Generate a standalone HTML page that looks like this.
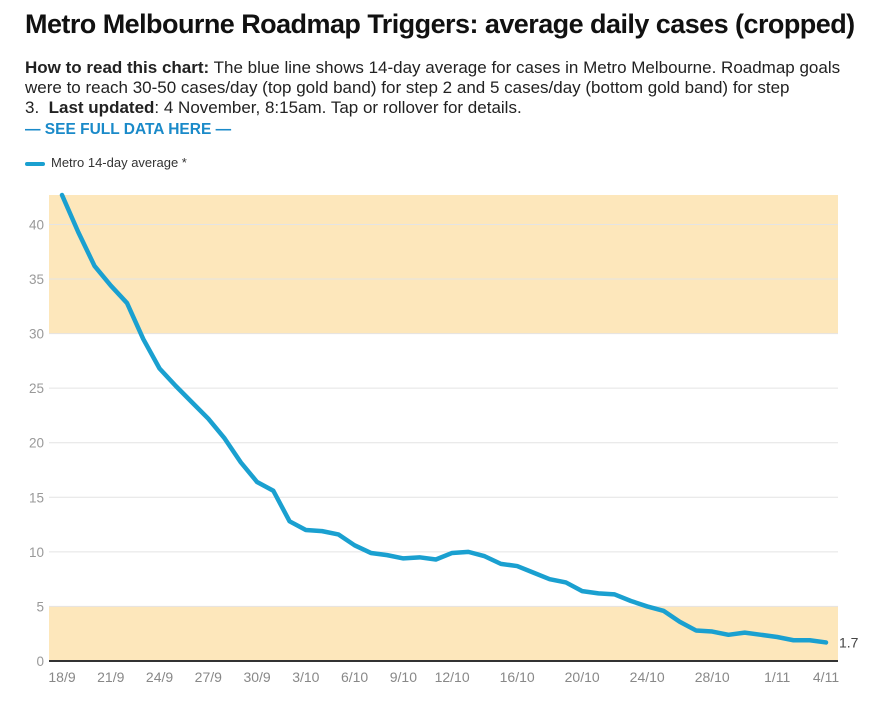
<!DOCTYPE html>
<html><head><meta charset="utf-8"><style>
body{margin:0;width:880px;height:703px;background:#fff;font-family:"Liberation Sans",sans-serif;overflow:hidden}
h1{position:absolute;left:25px;top:9px;margin:0;font-size:27px;font-weight:bold;color:#111;letter-spacing:-0.55px;white-space:nowrap}
.desc{position:absolute;left:25px;top:58px;width:850px;font-size:17px;line-height:20px;color:#222;white-space:nowrap}
.link{position:absolute;left:25px;top:121px;font-size:15.5px;font-weight:bold;color:#1a8ac9}
.legend{position:absolute;left:25px;top:155px;font-size:13px;color:#333}
.legend span{display:inline-block;width:20px;height:4px;background:#1aa0d0;border-radius:2px;vertical-align:middle;margin-right:6px}
svg{position:absolute;left:0;top:0}
</style></head><body>
<h1>Metro Melbourne Roadmap Triggers: average daily cases (cropped)</h1>
<div class="desc"><b>How to read this chart:</b> The blue line shows 14-day average for cases in Metro Melbourne. Roadmap goals<br>were to reach 30-50 cases/day (top gold band) for step 2 and 5 cases/day (bottom gold band) for step<br>3.&nbsp; <b>Last updated</b>: 4 November, 8:15am. Tap or rollover for details.</div>
<div class="link">— SEE FULL DATA HERE —</div>
<div class="legend"><span></span>Metro 14-day average *</div>
<svg id="c" width="880" height="703"></svg>
<script>
const values=[42.7,39.3,36.2,34.4,32.8,29.5,26.8,25.2,23.7,22.2,20.4,18.2,16.4,15.6,12.8,12.0,11.9,11.6,10.6,9.9,9.7,9.4,9.5,9.3,9.9,10.0,9.6,8.9,8.7,8.1,7.5,7.2,6.4,6.2,6.1,5.5,5.0,4.6,3.6,2.8,2.7,2.4,2.6,2.4,2.2,1.9,1.9,1.7];
const xTickIdx=[0,3,6,9,12,15,18,21,24,28,32,36,40,44,47];
const xTickLabels=["18/9","21/9","24/9","27/9","30/9","3/10","6/10","9/10","12/10","16/10","20/10","24/10","28/10","1/11","4/11"];
const yTicks=[0,5,10,15,20,25,30,35,40];
const bands=[[30,42.7],[0,5]];
const NS="http://www.w3.org/2000/svg",svg=document.getElementById('c');
const L=49,R=838,X0=62,X1=826,Y0=661,YMAX=42.7,YTOP=195;
const x=i=>X0+(X1-X0)*i/(values.length-1);
const y=v=>Y0-(Y0-YTOP)*v/YMAX;
function mk(t,a){const e=document.createElementNS(NS,t);for(const k in a)e.setAttribute(k,a[k]);svg.appendChild(e);return e;}
bands.forEach(b=>{const e=mk('rect',{x:L,y:y(b[1]),width:R-L,height:y(b[0])-y(b[1]),fill:'#fde7bb'});

});
yTicks.forEach(t=>{if(t>0){const g=mk('line',{x1:L,x2:R,y1:y(t),y2:y(t),stroke:'#e4e4e4','stroke-width':1});

}
const tx=mk('text',{x:44,y:y(t)+5,'text-anchor':'end','font-size':13.5,fill:'#999'});tx.textContent=t;

});
const ax=mk('line',{x1:L,x2:R,y1:Y0,y2:Y0,stroke:'#333','stroke-width':2});


xTickIdx.forEach((i,k)=>{const t=mk('text',{x:x(i),y:682,'text-anchor':'middle','font-size':14,fill:'#888'});t.textContent=xTickLabels[k];

});
const p=mk('polyline',{points:values.map((v,i)=>x(i)+','+y(v)).join(' '),fill:'none',stroke:'#1aa0d0','stroke-width':4.5,'stroke-linejoin':'round','stroke-linecap':'round'});


const lv=mk('text',{x:x(values.length-1)+13,y:y(values[values.length-1])+5,'font-size':14,fill:'#444'});lv.textContent=values[values.length-1];


</script>
</body></html>
